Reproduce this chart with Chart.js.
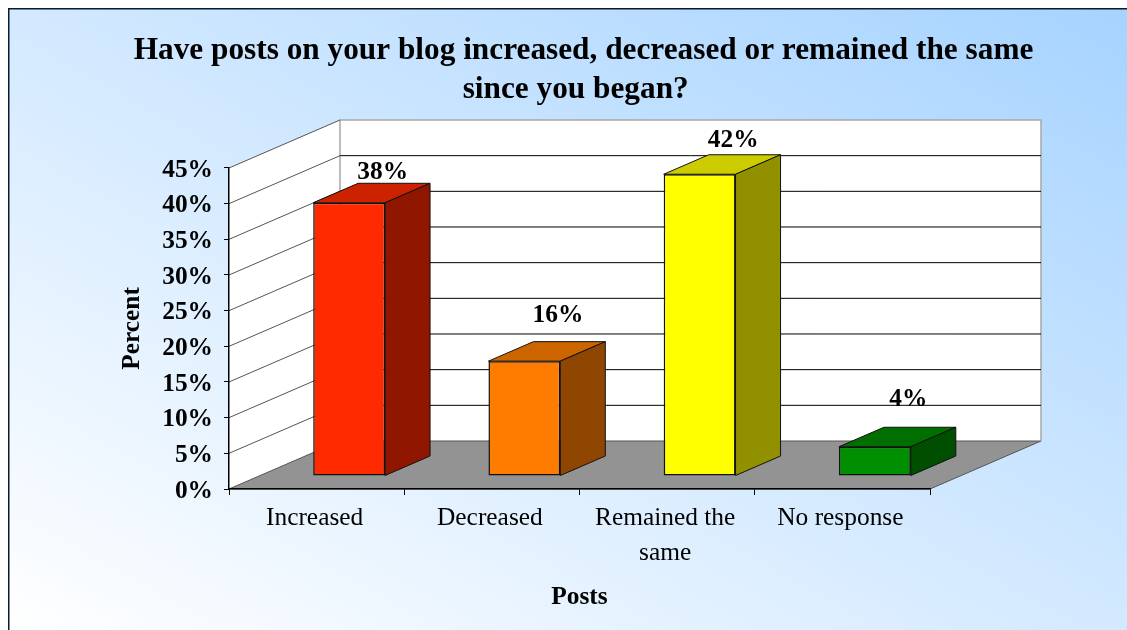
<!DOCTYPE html>
<html>
<head>
<meta charset="utf-8">
<title>Posts on your blog</title>
<script src="https://cdn.jsdelivr.net/npm/chart.js@4/dist/chart.umd.min.js"></script>
<style>
  html, body { margin: 0; padding: 0; background: #fff; overflow: hidden; }
  canvas { display: block; }
</style>
</head>
<body>
<canvas id="chart" width="1127" height="630"></canvas>
<script>
const categories = ["Increased", "Decreased", ["Remained the", "same"], "No response"];
const percentValues = [38.3, 16.1, 42.3, 4.1];
const yMax = 45;
const yStep = 5;

const frontColors = ["#ff2a00", "#ff7c00", "#ffff00", "#008f00"];
const topColors = ["#cc2200", "#cc6400", "#cccc00", "#006f00"];
const sideColors = ["#911600", "#8f4600", "#919100", "#004f00"];

const FONT = "'Liberation Serif', 'Times New Roman', serif";
const TEXT_SIZE = 25.4;

// 奥行き（壁全体 / バー）
const wall = { dx: 111, dy: -48 };
const bar3d = { x: 32.5, y: -13, dx: 45, dy: -19.5 };
// ラベルの持ち上げ量（元の図に合わせて個別に調整）
const labelLift = [30.5, 45.5, 33.5, 47.5];

const fake3d = {
  id: "fake3d",
  beforeDraw(chart) {
    const { ctx, width, height, scales: { x, y } } = chart;
    const left = x.left, right = x.right, bottom = y.bottom;

    // 背景グラデーション（左上と右下が同じ色になる向き）
    const bg = ctx.createLinearGradient(305, 794, 831, -154);
    bg.addColorStop(0, "#ffffff");
    bg.addColorStop(1, "#a6d3ff");
    ctx.save();
    ctx.fillStyle = bg;
    ctx.fillRect(9, 9, width - 9, height - 9);
    ctx.strokeStyle = "#0a1a2a";
    ctx.lineWidth = 1.5;
    ctx.beginPath();
    ctx.moveTo(8.75, height);
    ctx.lineTo(8.75, 8.75);
    ctx.lineTo(width, 8.75);
    ctx.stroke();

    // 壁
    const top = y.getPixelForValue(yMax);
    ctx.fillStyle = "#fff";
    ctx.beginPath();
    ctx.moveTo(left, bottom);
    ctx.lineTo(left, top);
    ctx.lineTo(left + wall.dx, top + wall.dy);
    ctx.lineTo(right + wall.dx, top + wall.dy);
    ctx.lineTo(right + wall.dx, bottom + wall.dy);
    ctx.lineTo(left + wall.dx, bottom + wall.dy);
    ctx.closePath();
    ctx.fill();

    // 床
    ctx.fillStyle = "#939393";
    ctx.beginPath();
    ctx.moveTo(left, bottom);
    ctx.lineTo(right, bottom);
    ctx.lineTo(right + wall.dx, bottom + wall.dy);
    ctx.lineTo(left + wall.dx, bottom + wall.dy);
    ctx.closePath();
    ctx.fill();
    ctx.strokeStyle = "#555";
    ctx.lineWidth = 1;
    ctx.stroke();

    // 壁の縁
    ctx.strokeStyle = "#a8a8a8";
    ctx.lineWidth = 1.5;
    ctx.beginPath();
    ctx.moveTo(left + wall.dx, bottom + wall.dy);
    ctx.lineTo(left + wall.dx, top + wall.dy);
    ctx.lineTo(right + wall.dx, top + wall.dy);
    ctx.lineTo(right + wall.dx, bottom + wall.dy);
    ctx.stroke();

    // グリッド線
    y.ticks.forEach((t) => {
      const py = y.getPixelForValue(t.value);
      if (t.value > 0) {
        ctx.strokeStyle = "#555";
        ctx.lineWidth = 1;
        ctx.beginPath();
        ctx.moveTo(left, py);
        ctx.lineTo(left + wall.dx, py + wall.dy);
        ctx.stroke();
      }
      if (t.value > 0 && t.value < yMax) {
        ctx.strokeStyle = "#000";
        ctx.lineWidth = 1;
        ctx.beginPath();
        ctx.moveTo(left + wall.dx, py + wall.dy);
        ctx.lineTo(right + wall.dx, py + wall.dy);
        ctx.stroke();
      }
    });
    ctx.restore();
  },
  beforeDatasetsDraw(chart) {
    const { ctx } = chart;
    const bars = chart.getDatasetMeta(0).data;
    ctx.save();
    ctx.translate(bar3d.x, bar3d.y);
    ctx.strokeStyle = "#111";
    ctx.lineWidth = 1;
    ctx.lineJoin = "round";
    bars.forEach((b, i) => {
      const l = b.x - b.width / 2, r = b.x + b.width / 2;
      const t = b.y, base = b.base;
      // 上面
      ctx.fillStyle = topColors[i];
      ctx.beginPath();
      ctx.moveTo(l, t);
      ctx.lineTo(l + bar3d.dx, t + bar3d.dy);
      ctx.lineTo(r + bar3d.dx, t + bar3d.dy);
      ctx.lineTo(r, t);
      ctx.closePath();
      ctx.fill();
      ctx.stroke();
      // 側面
      ctx.fillStyle = sideColors[i];
      ctx.beginPath();
      ctx.moveTo(r, t);
      ctx.lineTo(r + bar3d.dx, t + bar3d.dy);
      ctx.lineTo(r + bar3d.dx, base + bar3d.dy);
      ctx.lineTo(r, base);
      ctx.closePath();
      ctx.fill();
      ctx.stroke();
    });
    // 前面はChart.js本体に描かせる（afterDatasetsDrawで戻す）
  },
  afterDatasetsDraw(chart) {
    const { ctx } = chart;
    ctx.restore();
    const bars = chart.getDatasetMeta(0).data;
    ctx.save();
    ctx.fillStyle = "#000";
    ctx.font = "bold " + TEXT_SIZE + "px " + FONT;
    ctx.textAlign = "center";
    ctx.textBaseline = "middle";
    bars.forEach((b, i) => {
      ctx.fillText(Math.round(percentValues[i]) + "%", b.x + bar3d.x + 33.5, b.y + bar3d.y - labelLift[i]);
    });
    ctx.restore();
  },
  afterLayout(chart) {
    // タイトルの中心を右に寄せる
    chart.titleBlock.left = 40;
    chart.titleBlock.right = chart.width;
  }
};

new Chart(document.getElementById("chart"), {
  type: "bar",
  data: {
    labels: categories,
    datasets: [{
      data: percentValues,
      backgroundColor: frontColors,
      borderColor: "#111",
      borderWidth: 1.5,
      borderSkipped: false,
      barPercentage: 0.41,
      categoryPercentage: 1,
      clip: false
    }]
  },
  plugins: [fake3d],
  options: {
    responsive: false,
    animation: false,
    layout: { padding: { left: 115, right: 197, top: 0, bottom: 0 } },
    plugins: {
      legend: { display: false },
      tooltip: { enabled: false },
      title: {
        display: true,
        text: ["Have posts on your blog increased, decreased or remained the same", "since you began?  "],
        color: "#000",
        font: { family: FONT, size: 31.3, weight: "bold", lineHeight: 1.246 },
        padding: { top: 31, bottom: 59 }
      }
    },
    scales: {
      x: {
        grid: { drawOnChartArea: false, tickLength: 6, tickColor: "#000", color: "#000" },
        border: { color: "#000", width: 1.5 },
        ticks: { color: "#000", font: { family: FONT, size: TEXT_SIZE, lineHeight: 1.38 }, padding: 6, maxRotation: 0, labelOffset: -2 },
        title: {
          display: true,
          text: "Posts",
          color: "#000",
          font: { family: FONT, size: TEXT_SIZE, weight: "bold" },
          padding: { top: 0, bottom: 17 }
        },
        afterFit(scale) { scale.height = 141; }
      },
      y: {
        min: 0,
        max: yMax,
        grid: { drawOnChartArea: false, tickLength: 5, tickColor: "#000", color: "#000" },
        border: { color: "#000", width: 1.5 },
        ticks: {
          stepSize: yStep,
          color: "#000",
          padding: 11,
          labelOffset: 2,
          font: { family: FONT, size: TEXT_SIZE, weight: "bold" },
          callback: (v) => v + "%"
        },
        title: {
          display: true,
          text: "Percent",
          color: "#000",
          font: { family: FONT, size: TEXT_SIZE, weight: "bold" },
          padding: { top: 2, bottom: 0 }
        },
        afterFit(scale) { scale.width = 114; }
      }
    }
  }
});
</script>
</body>
</html>
